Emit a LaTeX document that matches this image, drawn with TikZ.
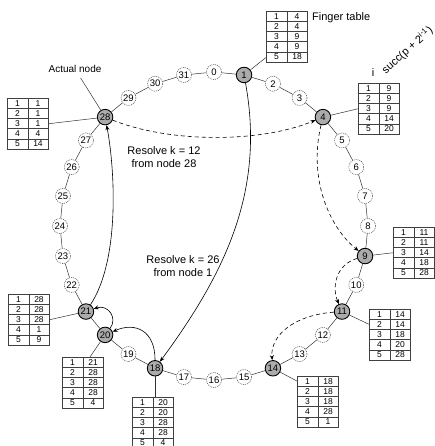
\documentclass[tikz,border=0pt]{standalone}
\usepackage{fontspec}
\setmainfont{Liberation Sans}
\usetikzlibrary{arrows.meta,calc}
\newcommand\ftable[3]{%
  \node[tblbox] (#1) at (#2) {};
  \foreach \v [count=\rw] in {#3} {
    \node[tblnum] at ($(#1.north west)+(10.5,{10.2*\rw-5.1})$) {\rw};
    \node[tblnum] at ($(#1.north west)+(31,{10.2*\rw-5.1})$) {\v};
  }
  \foreach \rw in {1,2,3,4}
    \draw[tblline] ($(#1.north west)+(0,{10.2*\rw})$) -- ($(#1.north east)+(0,{10.2*\rw})$);
  \draw[tblline] ($(#1.north west)+(21,0)$) -- ($(#1.south west)+(21,0)$);
}
\begin{document}
\begin{tikzpicture}[x=1pt,y=-1pt,
  ghost/.style={circle,draw=black!70,dash pattern=on 1pt off 0.9pt,line width=0.5pt,fill=white,minimum size=15pt,inner sep=0pt,font=\fontsize{9.5}{10}\selectfont},
  actual/.style={circle,draw=black,line width=0.9pt,fill=black!33,minimum size=15.5pt,inner sep=0pt,font=\fontsize{9.5}{10}\selectfont},
  ring/.style={line width=0.5pt,draw=black!80},
  tblbox/.style={draw=black!75,line width=0.5pt,minimum width=41pt,minimum height=51pt,inner sep=0pt,anchor=north west},
  tblline/.style={draw=black!75,line width=0.5pt},
  tblnum/.style={font=\fontsize{8.5}{9}\selectfont,inner sep=0pt},
  hop/.style={line width=0.6pt,-{Stealth[length=5pt,width=4pt]}},
  dhop/.style={hop,dash pattern=on 4pt off 3pt},
  lbl/.style={font=\fontsize{11}{13}\selectfont,align=center,inner sep=1pt}
]
\useasboundingbox (0,0) rectangle (434,446);
% ring nodes
\foreach \k in {0,2,3,5,6,7,8,10,12,13,15,16,17,19,22,23,24,25,26,27,29,30,31}
  \node[ghost] (n\k) at ({214+154*sin(\k*11.25)},{226-154*cos(\k*11.25)}) {\k};
\foreach \k in {1,4,9,11,14,18,20,21,28}
  \node[actual] (n\k) at ({214+154*sin(\k*11.25)},{226-154*cos(\k*11.25)}) {\k};
\foreach \k in {0,...,31}{
  \pgfmathtruncatemacro\j{mod(\k+1,32)}
  \draw[ring] (n\k) -- (n\j);
}
% finger tables
\ftable{t1}{266,11}{4,4,9,9,18}
\ftable{t4}{358,83}{9,9,9,14,20}
\ftable{t9}{393,227}{11,11,14,18,28}
\ftable{t11}{369,309}{14,14,18,20,28}
\ftable{t14}{297,376}{18,18,18,28,1}
\ftable{t18}{132,397}{20,20,28,28,4}
\ftable{t20}{62,357}{21,28,28,28,4}
\ftable{t21}{8,294}{28,28,28,1,9}
\ftable{t28}{7,98}{1,1,1,4,14}
% node-to-table lines
\draw[ring] (n1) -- ($(t1.south west)+(0,-5)$);
\draw[ring] (n4) -- (t4.west);
\draw[ring] (n9) -- (t9.west);
\draw[ring] (n11) -- ($(t11.north west)+(0,15.3)$);
\draw[ring] (n14) -- ($(t14.north west)+(0,5.1)$);
\draw[ring] (n18) -- (n18 |- t18.north);
\draw[ring] (n20) -- ($(t20.north west)+(28,0)$);
\draw[ring] (n21) -- (t21.east);
\draw[ring] (n28) -- (t28.east);
% labels
\node[lbl,anchor=west] (fing) at (311,18) {Finger table};
\node[lbl,font=\fontsize{10}{12}\selectfont] (actual) at (75,69) {Actual node};
\draw[ring,shorten <=5pt] (actual) -- (n28);
\node[lbl,anchor=base] (ilbl) at (373,77) {i};
\node[lbl,rotate=42,anchor=base west] (succ) at (385,75) {succ(p + 2\textsuperscript{i-1})};
\node[lbl] (res12) at (164,157) {Resolve k = 12\\from node 28};
\node[lbl] (res26) at (183,266) {Resolve k = 26\\from node 1};
% lookup k = 26 from node 1
\draw[hop] (n1) .. controls (265,190) and (226,272) .. (n18);
\draw[hop] (n18) .. controls (155,330) and (135,322) .. (n20);
\draw[hop] (n20) .. controls (118,318) and (108,304) .. (n21);
\draw[hop] (n21) .. controls (120,260) and (115,170) .. (n28);
% lookup k = 12 from node 28
\draw[dhop] (n28) .. controls (170,143) and (260,143) .. (n4);
\draw[dhop] (n4) .. controls (308,180) and (330,228) .. (n9);
\draw[dhop] (n9) .. controls (335,265) and (332,288) .. (n11);
\draw[dhop] (n11) .. controls (295,315) and (270,335) .. (n14);
\end{tikzpicture}
\end{document}
